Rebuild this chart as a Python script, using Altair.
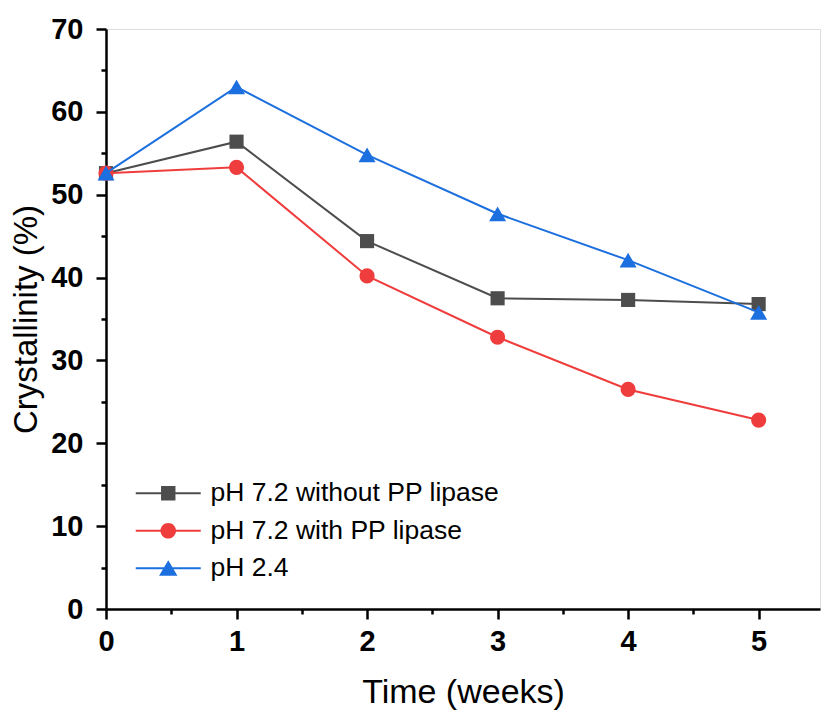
import altair as alt
import pandas as pd

weeks = [0, 1, 2, 3, 4, 5]
series_names = ["pH 7.2 without PP lipase", "pH 7.2 with PP lipase", "pH 2.4"]
gray_vals = [52.6, 56.4, 44.4, 37.5, 37.3, 36.8]
red_vals = [52.6, 53.3, 40.2, 32.8, 26.5, 22.8]
blue_vals = [52.6, 63.0, 54.8, 47.7, 42.1, 35.8]
colors = ["#4d4d4d", "#ef3c3c", "#1c6fdf"]
shapes = ["square", "circle", "triangle-up"]
marker_sizes = [200, 230, 290]
x_ticks = [0, 0.5, 1, 1.5, 2, 2.5, 3, 3.5, 4, 4.5, 5]
y_ticks = [0, 5, 10, 15, 20, 25, 30, 35, 40, 45, 50, 55, 60, 65, 70]

rows = []
for name, vals in zip(series_names, [gray_vals, red_vals, blue_vals]):
    for w, v in zip(weeks, vals):
        rows.append({"week": w, "value": v, "series": name})
df = pd.DataFrame(rows)

FONT = "Liberation Sans"
xscale = alt.Scale(domain=[0, 5.47], nice=False, zero=False)
yscale = alt.Scale(domain=[0, 70], nice=False)

xaxis = alt.Axis(
    values=x_ticks, title="Time (weeks)",
    labelExpr="datum.value % 1 === 0 ? format(datum.value, 'd') : ''",
    tickSize={"condition": {"test": "datum.value % 1 !== 0", "value": 5}, "value": 10},
    labelFont=FONT, labelFontSize=29, labelFontWeight="bold", labelColor="black",
    labelPadding=8, titleFont=FONT, titleFontSize=34, titleFontWeight="normal",
    titleColor="black", titlePadding=19, domainColor="black", domainWidth=2.5,
    tickColor="black", tickWidth=2.5, grid=False, labelFlush=False, labelOverlap=False,
)
yaxis = alt.Axis(
    values=y_ticks, title="Crystallinity (%)",
    labelExpr="datum.value % 10 === 0 ? format(datum.value, 'd') : ''",
    tickSize={"condition": {"test": "datum.value % 10 !== 0", "value": 5}, "value": 10},
    labelFont=FONT, labelFontSize=29, labelFontWeight="bold", labelColor="black",
    labelPadding=13, titleFont=FONT, titleFontSize=33, titleFontWeight="normal",
    titleColor="black", titlePadding=7, domainColor="black", domainWidth=2.5,
    tickColor="black", tickWidth=2.5, grid=False, labelFlush=False, labelOverlap=False,
)

enc_x = alt.X("week:Q", scale=xscale, axis=xaxis)
enc_y = alt.Y("value:Q", scale=yscale, axis=yaxis)

base = alt.Chart(df)
layers = []
for name, col, shp, sz in zip(series_names, colors, shapes, marker_sizes):
    sub = base.transform_filter(alt.datum.series == name)
    layers.append(sub.mark_line(color=col, strokeWidth=2).encode(x=enc_x, y=enc_y))
    layers.append(sub.mark_point(shape=shp, filled=True, size=sz, color=col, opacity=1)
                  .encode(x=enc_x, y=enc_y))

# legend-only layer (points fall outside the domain and are clipped)
legend_df = pd.DataFrame({"series": series_names, "week": [-1] * 3, "value": [-1] * 3})
legend_paths = [
    "M-3.25,-0.1H3.25V0.1H-3.25Z M-0.72,-0.72H0.72V0.72H-0.72Z",
    "M-3.25,-0.1H3.25V0.1H-3.25Z M0.78,0A0.78,0.78 0 1,1 -0.78,0A0.78,0.78 0 1,1 0.78,0Z",
    "M-3.25,-0.1H3.25V0.1H-3.25Z M0,-0.8L0.92,0.75L-0.92,0.75Z",
]
leg = dict(title=None, orient="none", legendX=49, legendY=451, symbolSize=400,
           labelFont=FONT, labelFontSize=26.5, labelColor="black", labelOffset=29,
           labelLimit=0, rowPadding=10.5, symbolStrokeWidth=0, symbolOpacity=1)
legend_layer = alt.Chart(legend_df).mark_point(filled=True, clip=True, opacity=1).encode(
    x=enc_x, y=enc_y,
    color=alt.Color("series:N", scale=alt.Scale(domain=series_names, range=colors),
                    legend=alt.Legend(**leg)),
    shape=alt.Shape("series:N", scale=alt.Scale(domain=series_names, range=legend_paths),
                    legend=alt.Legend(**leg)),
)

chart = alt.layer(*layers, legend_layer).properties(
    width=714, height=580,
    autosize=alt.AutoSizeParams(type="none"),
    padding={"left": 106, "top": 29, "right": 1, "bottom": 108},
).configure_view(strokeWidth=0).configure(background="white")

chart.save("out.html", embed_options={"renderer": "svg", "actions": False})
